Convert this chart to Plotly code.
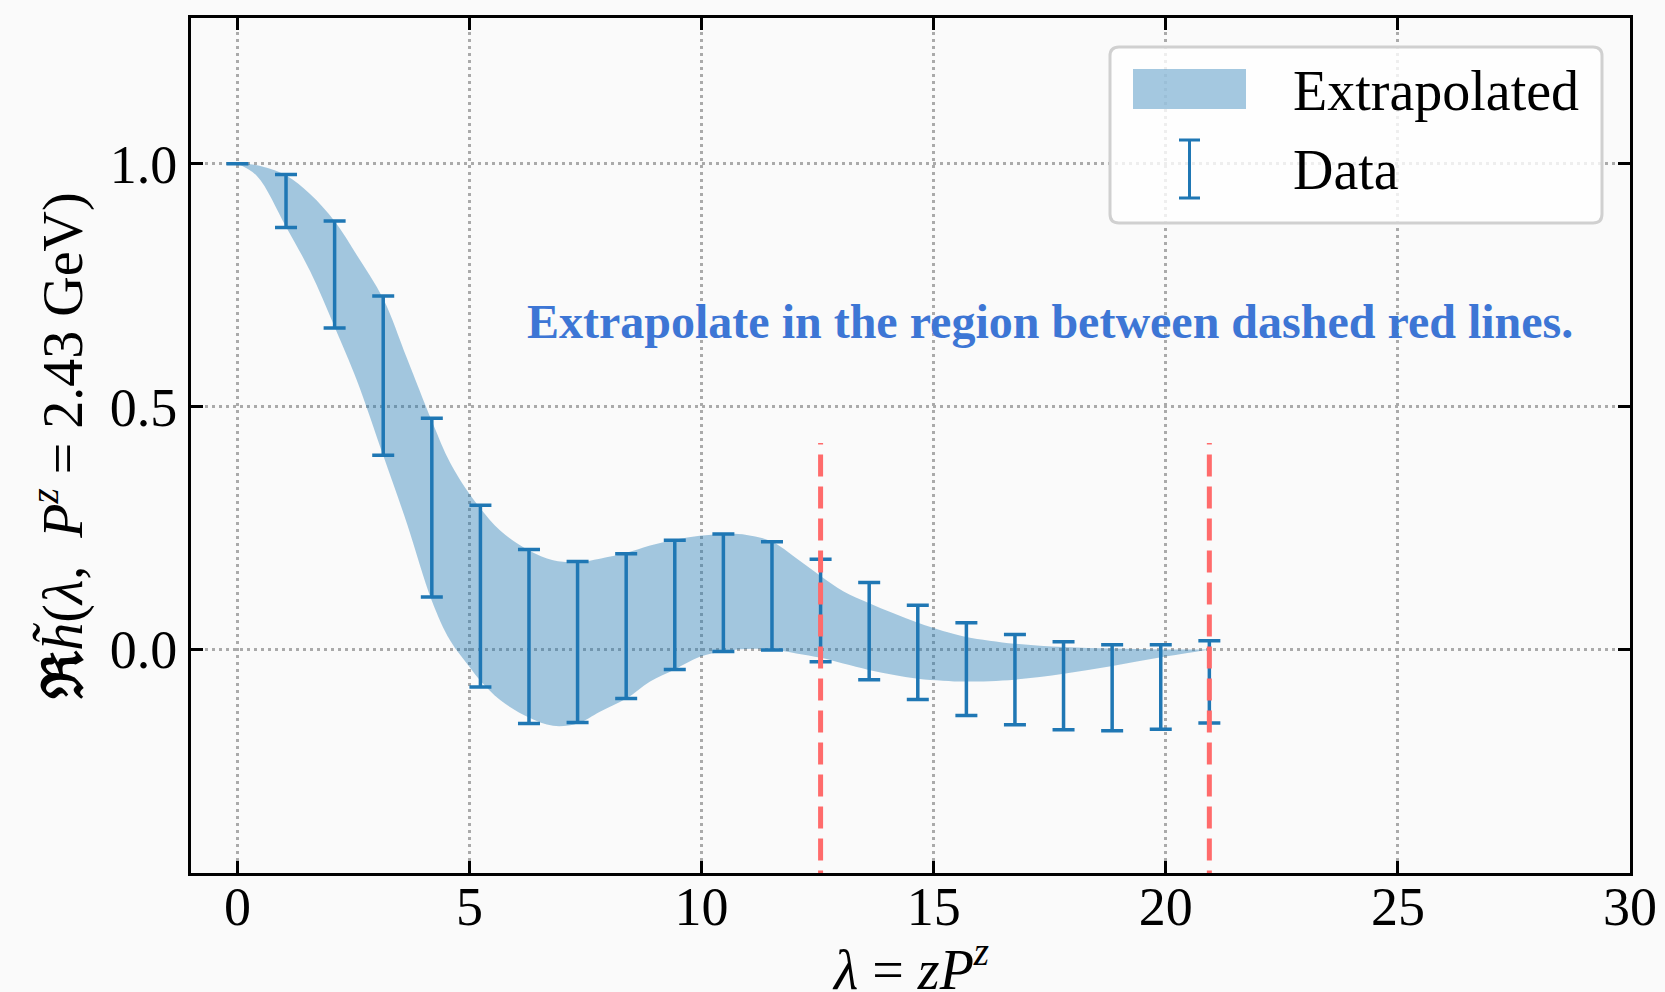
import plotly.graph_objects as go

# ---- data ----
lam = [0.0, 1.047, 2.094, 3.141, 4.188, 5.235, 6.281, 7.328, 8.375, 9.422, 10.469,
       11.516, 12.563, 13.610, 14.657, 15.704, 16.750, 17.797, 18.844, 19.891, 20.938]
data_mean = [1.0, 0.9235, 0.772, 0.564, 0.292, 0.110, 0.027, 0.0155, 0.048, 0.092, 0.117,
             0.1105, 0.0805, 0.038, -0.006, -0.0405, -0.062, -0.0745, -0.0785, -0.077, -0.0665]
data_err = [0.0, 0.0545, 0.110, 0.164, 0.184, 0.187, 0.179, 0.1655, 0.149, 0.133, 0.121,
            0.1115, 0.1055, 0.100, 0.097, 0.0955, 0.093, 0.0905, 0.0885, 0.087, 0.0845]

band_x = [0.0, 0.42, 1.05, 1.57, 2.09, 2.57, 3.14, 3.65, 4.19, 4.58, 5.0, 5.24, 5.66, 6.28,
          6.8, 7.33, 7.81, 8.38, 8.89, 9.42, 9.96, 10.47, 10.97, 11.52, 12.04, 12.57, 13.05,
          13.6, 14.12, 14.66, 15.2, 15.7, 16.75, 17.8, 18.85, 19.9, 20.94]
band_upper = [1.0, 0.997, 0.976, 0.937, 0.882, 0.812, 0.722, 0.60, 0.47, 0.385, 0.32, 0.29,
              0.245, 0.204, 0.184, 0.18, 0.187, 0.199, 0.214, 0.226, 0.234, 0.238, 0.236,
              0.222, 0.188, 0.151, 0.12, 0.096, 0.075, 0.055, 0.038, 0.026, 0.012, 0.005,
              0.002, 0.0, 0.0]
band_lower = [1.0, 0.975, 0.870, 0.778, 0.665, 0.555, 0.40, 0.26, 0.10, 0.019, -0.036, -0.065,
              -0.104, -0.140, -0.157, -0.152, -0.128, -0.101, -0.066, -0.041, -0.015, -0.004,
              0.001, 0.0, -0.008, -0.017, -0.029, -0.042, -0.052, -0.060, -0.064, -0.066,
              -0.062, -0.050, -0.034, -0.016, 0.0]

region_bounds = [12.563, 20.938]
vline_y = [-0.5, 0.425]

x_ticks = [0, 5, 10, 15, 20, 25, 30]
y_ticks = [0.0, 0.5, 1.0]

FONT = "Liberation Serif"
BLUE = "#1f77b4"
BAND = "rgba(31,119,180,0.4)"
RED = "#ff6b6b"

fig = go.Figure()

# extrapolated band
fig.add_trace(go.Scatter(x=band_x, y=band_lower, mode="lines",
                         line=dict(width=0, shape="spline", smoothing=1.0),
                         hoverinfo="skip", showlegend=False))
fig.add_trace(go.Scatter(x=band_x, y=band_upper, mode="lines", fill="tonexty",
                         fillcolor=BAND, line=dict(width=0, shape="spline", smoothing=1.0),
                         name="Extrapolated", showlegend=False))

# data error bars
fig.add_trace(go.Scatter(x=lam, y=data_mean, mode="markers",
                         marker=dict(size=1, opacity=0),
                         error_y=dict(type="data", array=data_err, visible=True,
                                      color=BLUE, thickness=3.5, width=11),
                         name="Data", showlegend=False))

# dashed red lines
for xb in region_bounds:
    fig.add_trace(go.Scatter(x=[xb, xb], y=vline_y, mode="lines",
                             line=dict(color=RED, width=5, dash="22px,10px"),
                             hoverinfo="skip", showlegend=False))

# annotation text
fig.add_annotation(x=17.5, y=0.675, xref="x", yref="y",
                   text="<b>Extrapolate in the region between dashed red lines.</b>",
                   showarrow=False, xanchor="center", yanchor="middle",
                   font=dict(family=FONT, size=48, color="#3d76d5"))

# ---- manual legend (paper coords) ----
W, H, L, T = 1439.0, 855.0, 191.0, 18.0
def px(xp):
    return (xp - L) / W
def py(yp):
    return (T + H - yp) / H

bx0, bx1, by0, by1 = px(1110), px(1602), py(223), py(47)
rx, ry = 9 / W, 9 / H
path = (f"M {bx0+rx},{by1} L {bx1-rx},{by1} Q {bx1},{by1} {bx1},{by1-ry} "
        f"L {bx1},{by0+ry} Q {bx1},{by0} {bx1-rx},{by0} L {bx0+rx},{by0} "
        f"Q {bx0},{by0} {bx0},{by0+ry} L {bx0},{by1-ry} Q {bx0},{by1} {bx0+rx},{by1} Z")
fig.add_shape(type="path", path=path, xref="paper", yref="paper",
              fillcolor="rgba(255,255,255,0.8)", line=dict(color="#d0d0d0", width=3))
fig.add_shape(type="rect", xref="paper", yref="paper",
              x0=px(1133), x1=px(1246), y0=py(109), y1=py(69),
              fillcolor=BAND, line=dict(width=0))
cx = px(1189.5)
cw = 10.5 / W
fig.add_shape(type="line", xref="paper", yref="paper", x0=cx, x1=cx, y0=py(198), y1=py(140),
              line=dict(color=BLUE, width=3))
fig.add_shape(type="line", xref="paper", yref="paper", x0=cx - cw, x1=cx + cw, y0=py(140), y1=py(140),
              line=dict(color=BLUE, width=3))
fig.add_shape(type="line", xref="paper", yref="paper", x0=cx - cw, x1=cx + cw, y0=py(198), y1=py(198),
              line=dict(color=BLUE, width=3))
fig.add_annotation(x=px(1291), y=py(91), xref="paper", yref="paper", text="Extrapolated",
                   showarrow=False, xanchor="left", yanchor="middle",
                   font=dict(family=FONT, size=56, color="black"))
fig.add_annotation(x=px(1291), y=py(170), xref="paper", yref="paper", text="Data",
                   showarrow=False, xanchor="left", yanchor="middle",
                   font=dict(family=FONT, size=56, color="black"))

# x-axis title below the tick labels
fig.add_annotation(x=0.5, y=py(965), xref="paper", yref="paper",
                   text="<i>λ</i> = <i>zP</i><sup><i>z</i></sup>",
                   showarrow=False, xanchor="center", yanchor="middle",
                   font=dict(family=FONT, size=56, color="black"))

axis_common = dict(ticks="inside", ticklen=12, tickwidth=3, tickcolor="black",
                   showline=True, linewidth=3, linecolor="black", mirror="allticks",
                   showgrid=True, gridcolor="#aaaaaa", gridwidth=2.5, griddash="3px,4px",
                   zeroline=False, automargin=False,
                   tickfont=dict(family=FONT, size=54, color="black"))

fig.update_xaxes(range=[-1, 30], tickvals=x_ticks, ticklabelstandoff=-16,
                 **axis_common)
fig.update_yaxes(range=[-0.46, 1.3], tickvals=y_ticks, tickformat=".1f",
                 title=dict(text="<b>ℜ</b><i>h̃</i>(<i>λ</i>,  <i>P</i><sup><i>z</i></sup> = 2.43 GeV)",
                            font=dict(family=FONT, size=56), standoff=10),
                 **axis_common)

fig.update_layout(width=1665, height=992,
                  margin=dict(l=191, r=35, t=18, b=119),
                  paper_bgcolor="#fafafa", plot_bgcolor="#fafafa",
                  font=dict(family=FONT, size=54, color="black"),
                  showlegend=False)

fig.write_html("out.html")
